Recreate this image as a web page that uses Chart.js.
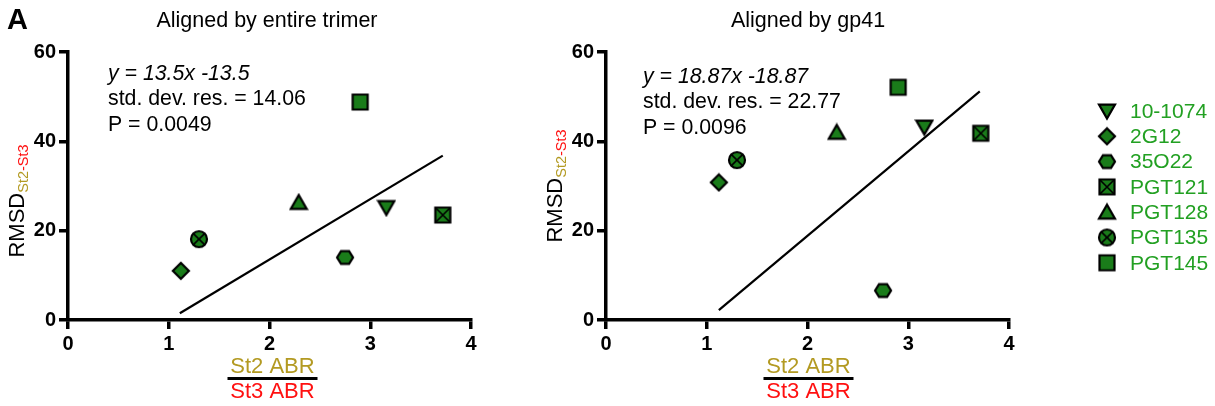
<!DOCTYPE html>
<html>
<head>
<meta charset="utf-8">
<script src="https://cdn.jsdelivr.net/npm/chart.js@4.4.1/dist/chart.umd.min.js"></script>
<style>
  html, body { margin: 0; padding: 0; background: #fff; }
  #wrap { position: relative; width: 1215px; height: 406px; }
  #left { position: absolute; left: 0; top: 0; }
  #right { position: absolute; left: 530px; top: 0; }
</style>
</head>
<body>
<div id="wrap">
  <canvas id="left" width="530" height="406"></canvas>
  <canvas id="right" width="685" height="406"></canvas>
</div>
<script>
// values
const antibodies = ['10-1074', '2G12', '35O22', 'PGT121', 'PGT128', 'PGT135', 'PGT145'];
const markerKinds = ['triDown', 'diamond', 'hexagon', 'squareX', 'triUp', 'circleX', 'square'];
const abrRatio = [3.16, 1.12, 2.75, 3.72, 2.29, 1.30, 2.90];
const rmsdTrimer = [25.2, 11.0, 14.0, 23.5, 26.3, 18.1, 48.8];
const rmsdGp41 = [43.2, 30.8, 6.6, 41.8, 42.0, 35.8, 52.1];
const fitTrimer = [{ x: 1.11, y: 1.5 }, { x: 3.72, y: 36.8 }];
const fitGp41 = [{ x: 1.12, y: 2.2 }, { x: 3.71, y: 51.2 }];
const notesTrimer = ['y = 13.5x -13.5', 'std. dev. res. = 14.06', 'P = 0.0049'];
const notesGp41 = ['y = 18.87x -18.87', 'std. dev. res. = 22.77', 'P = 0.0096'];

const FONT = "'Liberation Sans', Arial, sans-serif";
const FILL = '#1a7c1a';
const LEGEND_GREEN = '#22a022';
const OLIVE = '#b39a22';
const RED = '#ff1010';

function makeMarker(kind, s) {
  const c = document.createElement('canvas');
  c.width = c.height = s + 4;
  const g = c.getContext('2d');
  const m = (s + 4) / 2, r = s / 2;
  g.fillStyle = FILL;
  g.strokeStyle = '#000';
  g.lineWidth = 2.2;
  g.lineJoin = 'miter';
  g.beginPath();
  switch (kind) {
    case 'triDown':
      g.moveTo(m - r, m - r * 0.8); g.lineTo(m + r, m - r * 0.8); g.lineTo(m, m + r * 0.95); g.closePath(); break;
    case 'triUp':
      g.moveTo(m - r, m + r * 0.8); g.lineTo(m + r, m + r * 0.8); g.lineTo(m, m - r * 0.95); g.closePath(); break;
    case 'diamond':
      g.moveTo(m, m - r); g.lineTo(m + r, m); g.lineTo(m, m + r); g.lineTo(m - r, m); g.closePath(); break;
    case 'hexagon':
      g.moveTo(m - r, m); g.lineTo(m - r / 2, m - r * 0.8); g.lineTo(m + r / 2, m - r * 0.8);
      g.lineTo(m + r, m); g.lineTo(m + r / 2, m + r * 0.8); g.lineTo(m - r / 2, m + r * 0.8); g.closePath(); break;
    case 'circleX':
      g.arc(m, m, r, 0, Math.PI * 2); break;
    default:
      g.rect(m - r + 0.5, m - r + 0.5, s - 1, s - 1);
  }
  g.fill();
  g.stroke();
  if (kind === 'squareX' || kind === 'circleX') {
    const k = kind === 'squareX' ? r - 1 : r * 0.68;
    g.lineWidth = 1.6;
    g.beginPath();
    g.moveTo(m - k, m - k); g.lineTo(m + k, m + k);
    g.moveTo(m + k, m - k); g.lineTo(m - k, m + k);
    g.stroke();
  }
  return c;
}

const markers = markerKinds.map(k => makeMarker(k, 16));

function buildDatasets(yValues, fit) {
  const sets = antibodies.map((name, i) => ({
    type: 'scatter',
    label: name,
    data: [{ x: abrRatio[i], y: yValues[i] }],
    pointStyle: markers[i],
    pointRadius: 8,
  }));
  sets.push({
    type: 'line',
    label: 'fit',
    data: fit,
    borderColor: '#000',
    borderWidth: 2.2,
    pointRadius: 0,
    fill: false,
  });
  return sets;
}

const decor = {
  id: 'decor',
  afterDraw(chart, args, o) {
    const ctx = chart.ctx, a = chart.chartArea;
    ctx.save();
    ctx.textBaseline = 'alphabetic';
    if (o.panel) {
      ctx.font = 'bold 29px ' + FONT;
      ctx.fillStyle = '#000';
      ctx.textAlign = 'left';
      ctx.fillText(o.panel, 7, 29);
    }
    // title
    ctx.font = '21.5px ' + FONT;
    ctx.fillStyle = '#000';
    ctx.textAlign = 'center';
    ctx.fillText(o.title, o.titleX, 27);
    // regression notes
    ctx.textAlign = 'left';
    o.notes.forEach((t, i) => {
      ctx.font = (i === 0 ? 'italic ' : '') + '21.3px ' + FONT;
      ctx.fillText(t, a.left + o.noteDx, o.noteY + i * 25.3);
    });
    // x axis label as a fraction
    const cx = (a.left + a.right) / 2 + o.fracDx;
    ctx.textAlign = 'center';
    ctx.font = '22px ' + FONT;
    ctx.fillStyle = OLIVE;
    ctx.fillText('St2 ABR', cx, 373);
    ctx.fillStyle = RED;
    ctx.fillText('St3 ABR', cx, 398);
    ctx.fillStyle = '#000';
    ctx.fillRect(cx - 45, 377, 90, 3);
    // y axis label with subscript
    ctx.translate(a.left - 44.5, o.yLabY);
    ctx.rotate(-Math.PI / 2);
    ctx.textAlign = 'left';
    ctx.font = '22px ' + FONT;
    const w1 = ctx.measureText('RMSD').width;
    ctx.font = '14.5px ' + FONT;
    const w2 = ctx.measureText('St2').width;
    const w3 = ctx.measureText('-St3').width;
    let x = -(w1 + w2 + w3) / 2;
    ctx.font = '22px ' + FONT;
    ctx.fillStyle = '#000';
    ctx.fillText('RMSD', x, 0);
    x += w1;
    ctx.font = '14.5px ' + FONT;
    ctx.fillStyle = OLIVE;
    ctx.fillText('St2', x, 4);
    x += w2;
    ctx.fillStyle = RED;
    ctx.fillText('-St3', x, 4);
    ctx.restore();

    // legend
    if (o.legend) {
      ctx.save();
      ctx.font = '21px ' + FONT;
      ctx.fillStyle = LEGEND_GREEN;
      ctx.textAlign = 'left';
      ctx.textBaseline = 'middle';
      chart.data.datasets.forEach((ds, i) => {
        if (ds.type !== 'scatter') return;
        const y = o.legend.y + i * o.legend.step;
        const img = ds.pointStyle;
        ctx.drawImage(img, o.legend.x - img.width / 2, y - img.height / 2);
        ctx.fillText(ds.label, o.legend.x + 23, y + 1);
      });
      ctx.restore();
    }
  }
};

function axis(min, max, step, fitFn) {
  return {
    type: 'linear',
    min: min,
    max: max,
    ticks: { stepSize: step, color: '#000', padding: 3, font: { family: FONT, size: 20, weight: 'bold' } },
    grid: { drawOnChartArea: false, drawTicks: true, tickLength: 9, lineWidth: 3.5, color: '#000' },
    border: { width: 3.5, color: '#000' },
    afterFit: fitFn,
  };
}

function makeChart(id, yValues, fit, deco, yWidth, rightPad) {
  return new Chart(document.getElementById(id), {
    data: { datasets: buildDatasets(yValues, fit) },
    options: {
      responsive: false,
      animation: false,
      events: [],
      layout: { padding: { top: 52, right: rightPad, left: 0, bottom: 0 } },
      plugins: { legend: { display: false }, tooltip: { enabled: false }, decor: deco },
      scales: {
        x: axis(0, 4, 1, s => { s.height = 86; }),
        y: axis(0, 60, 20, s => { s.width = yWidth; }),
      },
    },
    plugins: [decor],
  });
}

makeChart('left', rmsdTrimer, fitTrimer, {
  panel: 'A', title: 'Aligned by entire trimer', titleX: 267,
  notes: notesTrimer, noteDx: 40, noteY: 80, fracDx: 3, yLabY: 201,
}, 68, 59);

makeChart('right', rmsdGp41, fitGp41, {
  title: 'Aligned by gp41', titleX: 278,
  notes: notesGp41, noteDx: 37, noteY: 83, fracDx: 1, yLabY: 186,
  legend: { x: 577, y: 111, step: 25.3 },
}, 76, 206);
</script>
</body>
</html>
